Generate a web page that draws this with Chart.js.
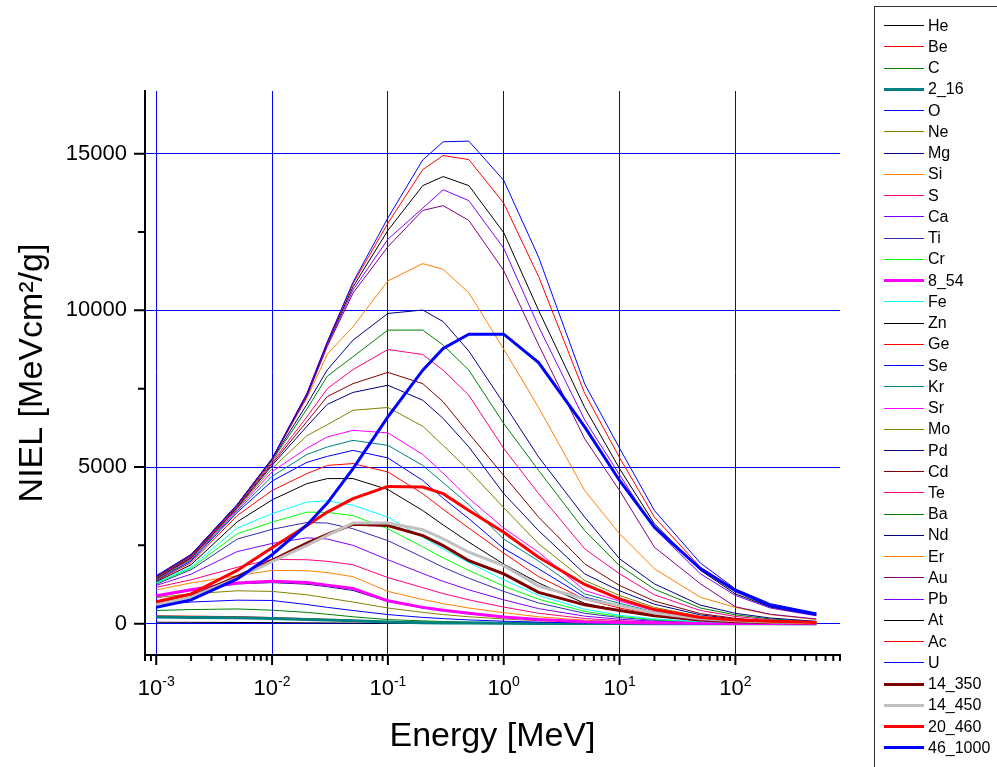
<!DOCTYPE html>
<html>
<head>
<meta charset="utf-8">
<script src="https://cdn.jsdelivr.net/npm/chart.js@4.4.1/dist/chart.umd.min.js"></script>
<style>
  html, body { margin: 0; padding: 0; background: #fff; overflow: hidden; }
  #wrap { position: relative; width: 997px; height: 767px; }
  #legend {
    position: absolute; left: 874px; top: 6px; width: 140px; height: 790px;
    border: 1px solid #333; box-sizing: border-box;
    font-family: "Liberation Sans", Arial, sans-serif; font-size: 16px; color: #000;
  }
  .item { position: absolute; left: 0; width: 130px; height: 20px; }
  .item .swatch { position: absolute; left: 9px; width: 40px; }
  .item span { position: absolute; left: 53px; top: 1px; line-height: 18px; white-space: nowrap; }
</style>
</head>
<body>
<div id="wrap">
  <canvas id="nielChart" width="997" height="767"></canvas>
  <div id="legend"></div>
</div>
<script>
// energias (MeV) e eixos
const energy = [0.001, 0.002, 0.005, 0.01, 0.02, 0.03, 0.05, 0.1, 0.2, 0.3, 0.5, 1, 2, 5, 10, 20, 50, 100, 200, 500];
const xTicks = [0.001, 0.01, 0.1, 1, 10, 100];
const yTicks = [0, 5000, 10000, 15000];
const yMinorTicks = [2500, 7500, 12500];

// NIEL [MeVcm2/g]
const He = [45, 42, 38, 33, 27, 23, 18, 12, 8, 6, 4, 3, 2, 1, 0.5, 0.3, 0.1, 0.1, 0, 0];
const Be = [250, 240, 225, 195, 160, 135, 105, 65, 42, 32, 24, 15, 9, 4, 2, 1, 0.5, 0.3, 0.2, 0.1];
const C = [420, 450, 470, 430, 360, 300, 220, 130, 90, 70, 50, 33, 20, 10, 6, 3, 1.5, 0.8, 0.4, 0.2];
const ion2_16 = [210, 200, 185, 165, 135, 115, 90, 50, 32, 25, 18, 11, 7, 3, 2, 1, 0.5, 0.3, 0.2, 0.1];
const O = [600, 690, 750, 740, 610, 520, 420, 290, 200, 160, 120, 80, 50, 25, 14, 8, 3, 2, 1, 0.5];
const Ne = [830, 950, 1050, 1030, 920, 820, 690, 500, 360, 290, 220, 150, 95, 45, 25, 14, 6, 3, 2, 1];
const Mg = [860, 1060, 1270, 1310, 1260, 1180, 1060, 710, 500, 410, 320, 220, 140, 70, 40, 22, 10, 5, 3, 1];
const Si = [1080, 1300, 1530, 1700, 1690, 1630, 1500, 1030, 770, 640, 500, 350, 220, 110, 63, 36, 15, 8, 5, 2];
const S = [1160, 1400, 1800, 2050, 2040, 1990, 1880, 1470, 1150, 960, 760, 530, 330, 165, 95, 55, 23, 12, 7, 3];
const Ca = [1220, 1580, 2300, 2560, 2740, 2700, 2500, 2040, 1600, 1350, 1080, 760, 480, 240, 140, 80, 34, 18, 10, 4];
const Ti = [1260, 1720, 2700, 3010, 3230, 3210, 3030, 2650, 2120, 1800, 1450, 1030, 660, 330, 195, 110, 47, 25, 14, 6];
const Cr = [1290, 1770, 2870, 3240, 3560, 3550, 3450, 3030, 2450, 2100, 1700, 1200, 780, 390, 230, 130, 55, 30, 17, 7];
const ion8_54 = [890, 1080, 1300, 1350, 1310, 1230, 1120, 730, 520, 430, 330, 210, 130, 60, 35, 20, 10, 5, 3, 1];
const Fe = [1310, 1810, 3050, 3510, 3880, 3920, 3780, 3400, 2760, 2380, 1950, 1400, 900, 460, 270, 150, 65, 35, 20, 8];
const Zn = [1340, 1880, 3250, 3950, 4470, 4630, 4630, 4280, 3610, 3150, 2600, 1900, 1300, 650, 420, 240, 105, 55, 30, 12];
const Ge = [1370, 1950, 3450, 4250, 4790, 5050, 5110, 4840, 4150, 3650, 3050, 2250, 1500, 780, 500, 285, 125, 65, 36, 15];
const Se = [1390, 2000, 3550, 4550, 5150, 5340, 5530, 5290, 4570, 4000, 3350, 2400, 1750, 850, 580, 330, 145, 75, 41, 17];
const Kr = [1400, 2030, 3600, 4700, 5400, 5640, 5850, 5690, 5050, 4500, 3800, 2700, 2000, 950, 650, 370, 160, 85, 46, 19];
const Sr = [1420, 2060, 3640, 4850, 5600, 5960, 6170, 6090, 5400, 4800, 4000, 3050, 2280, 1060, 720, 410, 180, 95, 52, 22];
const Mo = [1430, 2080, 3680, 4950, 6000, 6350, 6810, 6900, 6300, 5690, 4890, 3700, 2550, 1380, 900, 520, 230, 120, 65, 27];
const Pd = [1440, 2100, 3700, 5050, 6300, 7000, 7380, 7610, 7130, 6550, 5640, 4150, 2970, 1590, 1050, 620, 280, 150, 80, 32];
const Cd = [1450, 2120, 3720, 5100, 6450, 7250, 7660, 8020, 7660, 7080, 6070, 4730, 3400, 1910, 1220, 720, 320, 170, 90, 38];
const Te = [1460, 2140, 3740, 5150, 6600, 7500, 8110, 8750, 8590, 8090, 7290, 5590, 4150, 2390, 1590, 920, 420, 230, 125, 50];
const Ba = [1470, 2160, 3760, 5200, 6850, 7900, 8520, 9370, 9370, 8890, 8090, 6390, 4890, 2970, 1850, 1100, 500, 280, 150, 60];
const Nd = [1480, 2170, 3770, 5230, 7000, 8100, 9050, 9900, 10010, 9640, 8700, 7030, 5320, 3400, 2070, 1270, 590, 330, 180, 75];
const Er = [1490, 2180, 3780, 5240, 7200, 8600, 9480, 10940, 11490, 11310, 10560, 8760, 6900, 4250, 2870, 1750, 840, 520, 290, 130];
const Au = [1500, 2190, 3790, 5250, 7250, 8850, 10550, 12030, 13190, 13340, 12870, 11270, 8900, 5900, 4250, 2440, 1270, 540, 300, 150];
const Pb = [1500, 2190, 3790, 5250, 7280, 8900, 10650, 12270, 13260, 13850, 13500, 11980, 9480, 6500, 4750, 3030, 1590, 900, 500, 250];
const At = [1510, 2200, 3800, 5260, 7320, 8950, 10750, 12550, 13980, 14270, 13980, 12480, 10000, 6900, 4950, 3190, 1700, 950, 530, 270];
const Ac = [1520, 2200, 3800, 5260, 7340, 8980, 10850, 12780, 14490, 14940, 14810, 13420, 11080, 7350, 5300, 3400, 1800, 1100, 600, 310];
const U = [1530, 2210, 3800, 5270, 7350, 9000, 10900, 12950, 14800, 15380, 15400, 14150, 11700, 7650, 5600, 3610, 1930, 1110, 640, 340];
const ion14_350 = [630, 870, 1500, 2020, 2570, 2850, 3170, 3130, 2810, 2490, 2010, 1590, 1000, 600, 420, 250, 115, 65, 40, 20];
const ion14_450 = [610, 850, 1450, 1980, 2500, 2820, 3210, 3210, 3000, 2710, 2280, 1850, 1200, 790, 575, 340, 160, 95, 55, 30];
const ion20_460 = [700, 950, 1700, 2420, 3130, 3560, 3990, 4380, 4360, 4150, 3610, 2920, 2120, 1250, 790, 450, 200, 120, 75, 40];
const ion46_1000 = [520, 760, 1430, 2200, 3150, 3850, 4950, 6600, 8090, 8780, 9240, 9240, 8330, 6280, 4570, 3080, 1750, 1055, 580, 300];

const names = ["He", "Be", "C", "2_16", "O", "Ne", "Mg", "Si", "S", "Ca", "Ti", "Cr", "8_54", "Fe", "Zn", "Ge", "Se", "Kr",
  "Sr", "Mo", "Pd", "Cd", "Te", "Ba", "Nd", "Er", "Au", "Pb", "At", "Ac", "U", "14_350", "14_450", "20_460", "46_1000"];
const series = [He, Be, C, ion2_16, O, Ne, Mg, Si, S, Ca, Ti, Cr, ion8_54, Fe, Zn, Ge, Se, Kr,
  Sr, Mo, Pd, Cd, Te, Ba, Nd, Er, Au, Pb, At, Ac, U, ion14_350, ion14_450, ion20_460, ion46_1000];
const colors = ["#000000", "#FF0000", "#008000", "#008080", "#0000FF", "#808000", "#000080", "#FF8000", "#FF0080", "#8000FF",
  "#3030B0", "#00FF00", "#FF00FF", "#00FFFF", "#000000", "#FF0000", "#0000FF", "#008080", "#FF00FF", "#808000",
  "#000080", "#800000", "#FF0080", "#008000", "#000080", "#FF8000", "#800080", "#8000FF", "#000000", "#FF0000",
  "#0000FF", "#800000", "#C0C0C0", "#FF0000", "#0000FF"];
const thick = ["2_16", "8_54", "14_350", "14_450", "20_460", "46_1000"];

const FONT = '"Liberation Sans", Arial, sans-serif';

// ticks e rotulos 10^n desenhados a partir das escalas
const axisDecor = {
  id: "axisDecor",
  afterDraw(chart) {
    const { ctx, chartArea: area, scales: { x, y } } = chart;
    ctx.save();
    ctx.strokeStyle = "#000";
    ctx.lineWidth = 2;
    ctx.beginPath();
    for (let e = -4; e <= 2; e++) {
      for (let m = 1; m <= 9; m++) {
        const v = m * Math.pow(10, e);
        if (v < x.min || v > x.max) continue;
        const px = x.getPixelForValue(v);
        ctx.moveTo(px, area.bottom);
        ctx.lineTo(px, area.bottom + (m === 1 ? 10 : 6));
      }
    }
    yTicks.forEach((v) => {
      const py = y.getPixelForValue(v);
      ctx.moveTo(area.left, py);
      ctx.lineTo(area.left - 11, py);
    });
    yMinorTicks.forEach((v) => {
      const py = y.getPixelForValue(v);
      ctx.moveTo(area.left, py);
      ctx.lineTo(area.left - 7, py);
    });
    ctx.stroke();

    ctx.fillStyle = "#000";
    ctx.textAlign = "left";
    ctx.textBaseline = "alphabetic";
    xTicks.forEach((v) => {
      const exp = String(Math.round(Math.log10(v)));
      ctx.font = "22px " + FONT;
      const wBase = ctx.measureText("10").width;
      ctx.font = "14px " + FONT;
      const wExp = ctx.measureText(exp).width;
      const left = x.getPixelForValue(v) - (wBase + wExp) / 2;
      ctx.font = "22px " + FONT;
      ctx.fillText("10", left, area.bottom + 40);
      ctx.font = "14px " + FONT;
      ctx.fillText(exp, left + wBase, area.bottom + 31);
    });
    ctx.restore();
  },
};

const datasets = series.map((vals, i) => ({
  label: names[i],
  data: vals.map((v, j) => ({ x: energy[j], y: v })),
  borderColor: colors[i],
  backgroundColor: colors[i],
  borderWidth: thick.includes(names[i]) ? 3 : 1,
  pointRadius: 0,
  tension: 0,
  fill: false,
  order: -i, // os ultimos ficam por cima
}));

new Chart(document.getElementById("nielChart").getContext("2d"), {
  type: "line",
  data: { datasets },
  options: {
    responsive: false,
    animation: false,
    devicePixelRatio: 1,
    layout: { padding: { top: 91, right: 157, left: 0, bottom: 0 } },
    plugins: { legend: { display: false }, tooltip: { enabled: false } },
    scales: {
      x: {
        type: "logarithmic",
        min: 0.0008,
        max: 800,
        afterBuildTicks: (axis) => { axis.ticks = xTicks.map((v) => ({ value: v })); },
        afterFit: (axis) => { axis.height = 112; },
        ticks: { display: false },
        grid: { color: "#0000FF", lineWidth: 1, drawTicks: false },
        border: { display: true, color: "#000", width: 2 },
        title: {
          display: true,
          text: "Energy [MeV]",
          color: "#000",
          font: { family: FONT, size: 34 },
          padding: { top: 0, bottom: 10 },
        },
      },
      y: {
        type: "linear",
        min: -1000,
        max: 17000,
        afterBuildTicks: (axis) => { axis.ticks = yTicks.map((v) => ({ value: v })); },
        afterFit: (axis) => { axis.width = 145; },
        ticks: {
          color: "#000",
          font: { family: FONT, size: 22 },
          padding: 18,
          callback: (v) => String(v),
        },
        grid: { color: "#0000FF", lineWidth: 1, drawTicks: false },
        border: { display: true, color: "#000", width: 2 },
        title: {
          display: true,
          text: "NIEL [MeVcm²/g]",
          color: "#000",
          font: { family: FONT, size: 34 },
          padding: { top: 12, bottom: 0 },
        },
      },
    },
  },
  plugins: [axisDecor],
});

// legenda em HTML, a partir dos mesmos arrays
const legend = document.getElementById("legend");
names.forEach((name, i) => {
  const item = document.createElement("div");
  item.className = "item";
  item.style.top = (8.7 + 21.24 * i) + "px";
  const sw = document.createElement("div");
  sw.className = "swatch";
  const h = thick.includes(name) ? 3 : 1;
  sw.style.height = h + "px";
  sw.style.top = (10 - h / 2) + "px";
  sw.style.background = colors[i];
  const txt = document.createElement("span");
  txt.textContent = name;
  item.appendChild(sw);
  item.appendChild(txt);
  legend.appendChild(item);
});
</script>
</body>
</html>
